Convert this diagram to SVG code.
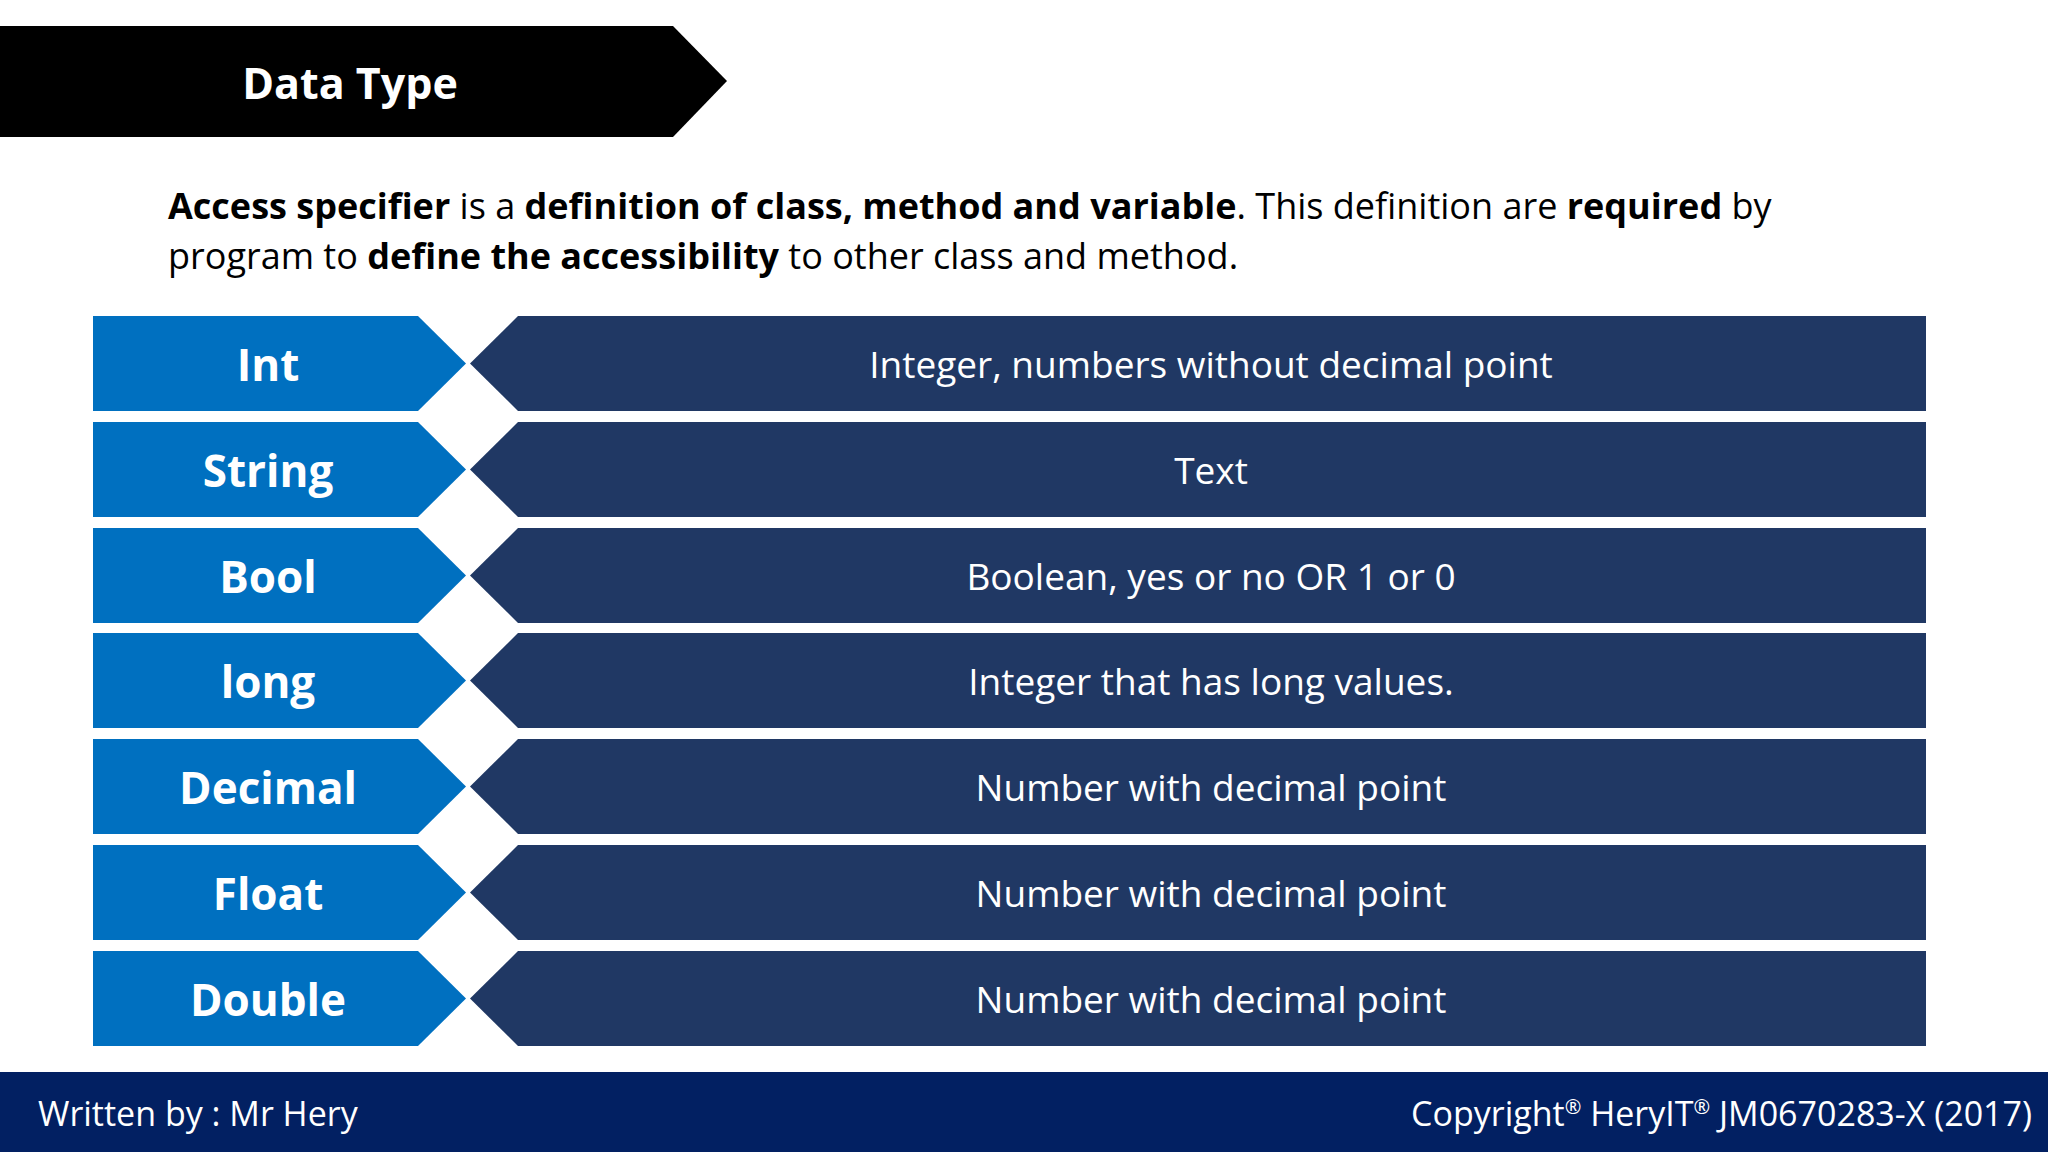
<svg xmlns="http://www.w3.org/2000/svg" width="2048" height="1152" viewBox="0 0 2048 1152">
<style>
text{font-family:"Open Sans","Noto Sans",sans-serif;fill:#fff}
.k{fill:#0070C0}.d{fill:#203864}
.l{font-size:44px;font-weight:bold;text-anchor:middle}
.r{font-size:37px;text-anchor:middle}
.p{font-size:36px;fill:#000}
.f{font-size:34px}
.s{font-size:20px}
</style>
<rect width="2048" height="1152" fill="#fff"/>
<g id="header"><polygon points="0,26 673,26 727,81 673,137 0,137" fill="#000"/>
<text x="350" y="99" font-size="43" font-weight="bold" text-anchor="middle">Data Type</text></g>
<g id="intro"><text class="p" x="168" y="219"><tspan font-weight="bold">Access specifier</tspan> is a <tspan font-weight="bold">definition of class, method and variable</tspan>. This definition are <tspan font-weight="bold">required</tspan> by</text>
<text class="p" x="168" y="269">program to <tspan font-weight="bold">define the accessibility</tspan> to other class and method.</text></g>
<g id="rows">
<g id="r1" transform="translate(0,316)"><polygon class="k" points="93,0 418,0 466,47.5 418,95 93,95"/><polygon class="d" points="518,0 1926,0 1926,95 518,95 470,47.5"/><text class="l" x="268" y="65">Int</text><text class="r" x="1211" y="62">Integer, numbers without decimal point</text></g>
<g id="r2" transform="translate(0,422)"><polygon class="k" points="93,0 418,0 466,47.5 418,95 93,95"/><polygon class="d" points="518,0 1926,0 1926,95 518,95 470,47.5"/><text class="l" x="268" y="65">String</text><text class="r" x="1211" y="62">Text</text></g>
<g id="r3" transform="translate(0,528)"><polygon class="k" points="93,0 418,0 466,47.5 418,95 93,95"/><polygon class="d" points="518,0 1926,0 1926,95 518,95 470,47.5"/><text class="l" x="268" y="65">Bool</text><text class="r" x="1211" y="62">Boolean, yes or no OR 1 or 0</text></g>
<g id="r4" transform="translate(0,633)"><polygon class="k" points="93,0 418,0 466,47.5 418,95 93,95"/><polygon class="d" points="518,0 1926,0 1926,95 518,95 470,47.5"/><text class="l" x="268" y="65">long</text><text class="r" x="1211" y="62">Integer that has long values.</text></g>
<g id="r5" transform="translate(0,739)"><polygon class="k" points="93,0 418,0 466,47.5 418,95 93,95"/><polygon class="d" points="518,0 1926,0 1926,95 518,95 470,47.5"/><text class="l" x="268" y="65">Decimal</text><text class="r" x="1211" y="62">Number with decimal point</text></g>
<g id="r6" transform="translate(0,845)"><polygon class="k" points="93,0 418,0 466,47.5 418,95 93,95"/><polygon class="d" points="518,0 1926,0 1926,95 518,95 470,47.5"/><text class="l" x="268" y="65">Float</text><text class="r" x="1211" y="62">Number with decimal point</text></g>
<g id="r7" transform="translate(0,951)"><polygon class="k" points="93,0 418,0 466,47.5 418,95 93,95"/><polygon class="d" points="518,0 1926,0 1926,95 518,95 470,47.5"/><text class="l" x="268" y="65">Double</text><text class="r" x="1211" y="62">Number with decimal point</text></g>
</g>
<g id="footer"><rect x="0" y="1072" width="2048" height="80" fill="#022062"/>
<text class="f" x="38" y="1126">Written by : Mr Hery</text>
<text class="f" x="2032" y="1126" text-anchor="end">Copyright<tspan class="s" dy="-12">®</tspan><tspan dy="12"> HeryIT</tspan><tspan class="s" dy="-12">®</tspan><tspan dy="12"> JM0670283-X (2017)</tspan></text></g>
</svg>
